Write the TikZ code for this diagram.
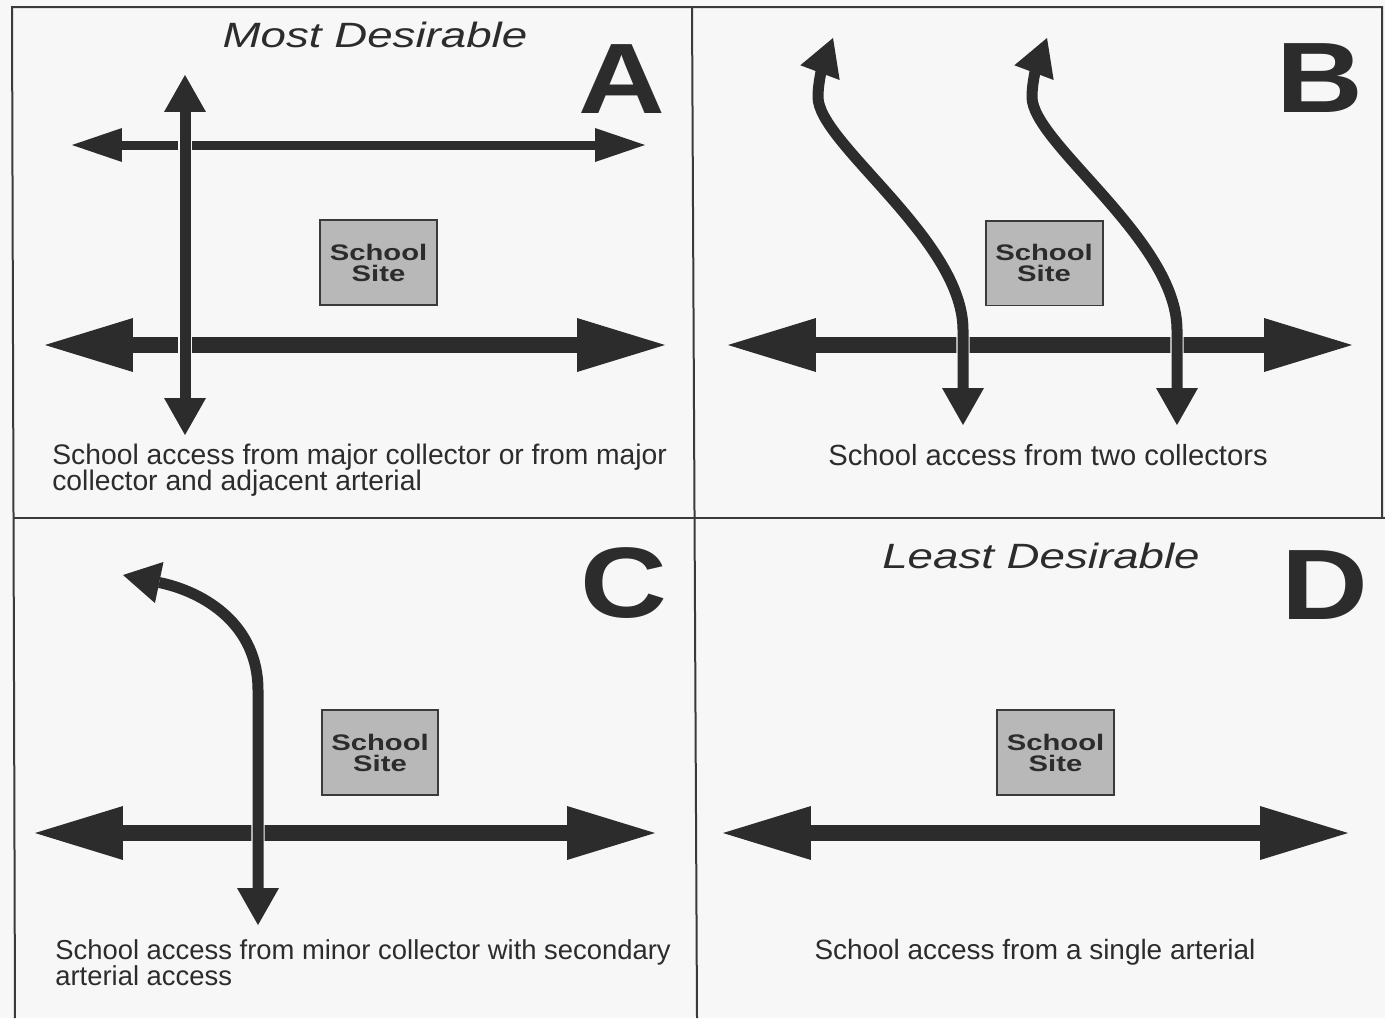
\documentclass[tikz,border=0pt]{standalone}
\usepackage{fontspec}
\setmainfont{Liberation Sans}
\newfontfamily\widesans[FakeStretch=1.3]{Liberation Sans}
\newfontfamily\lettersans[FakeStretch=1.2]{Liberation Sans}
\usetikzlibrary{arrows.meta}

\definecolor{ink}{HTML}{2C2C2C}
\definecolor{paper}{HTML}{F7F7F7}
\definecolor{rule}{HTML}{3A3A3A}
\definecolor{sitefill}{HTML}{B8B8B8}

% keep a fixed baseline distance even when lines nearly touch
\newcommand\tightlines{\lineskiplimit=-20pt\relax\lineskip=0pt\relax}

\tikzset{
  frame/.style={draw=rule, line width=0.04cm},
  arterial/.style={draw=ink, line width=0.32cm,
    {Triangle[length=1.76cm,width=1.08cm,line width=0pt]}-{Triangle[length=1.76cm,width=1.08cm,line width=0pt]}},
  collector/.style={draw=ink, line width=0.22cm,
    preaction={draw=paper, line width=0.265cm, arrows=-},
    {Triangle[length=0.74cm,width=0.84cm,line width=0pt]}-{Triangle[length=0.74cm,width=0.84cm,line width=0pt]}},
  lightcollector/.style={draw=ink, line width=0.18cm,
    {Triangle[length=1.0cm,width=0.68cm,line width=0pt]}-{Triangle[length=1.0cm,width=0.68cm,line width=0pt]}},
  site/.style={draw=rule, line width=0.04cm, fill=sitefill, minimum width=2.34cm,
    minimum height=1.7cm, inner sep=0pt, align=center, text=ink,
    font=\widesans\bfseries\fontsize{12.8}{12}\selectfont\tightlines},
  panelletter/.style={inner sep=0pt, text=ink, font=\lettersans\bfseries\fontsize{57}{57}\selectfont},
  ranking/.style={inner sep=0pt, text=ink, font=\widesans\itshape\fontsize{20}{20}\selectfont},
  caption/.style={inner sep=0pt, text=ink, align=left,
    font=\fontsize{#1}{14.8}\selectfont\tightlines},
  caption/.default=16.2,
}

\begin{document}
\begin{tikzpicture}[x=0.02cm, y=-0.02cm]
\useasboundingbox[fill=paper] (0,0) rectangle (1385,1018);

% panel frame
\draw[frame] (15,1018) -- (12,7) -- (1382,7) -- (1382,518);
\draw[frame] (692,7) -- (697,1018);
\draw[frame] (13,518) -- (1385,518);

% ---------------- panel A ----------------
\node[ranking] (rankA) at (375,35) {Most Desirable};
\node[panelletter] (letA) at (622,79) {A};
\node[site] (siteA) at (378.5,262.5) {School\\Site};

\coordinate (artAw) at (45,345);
\coordinate (artAe) at (665,345);
\coordinate (colAw) at (72,145);
\coordinate (colAe) at (645,145);
\coordinate (colAn) at (185,75);
\coordinate (colAs) at (185,435);
\draw[arterial] (artAw) -- (artAe);
\draw[lightcollector] (colAw) -- (colAe);
\draw[collector] (colAn) -- (colAs);

\node[caption=16.1, anchor=north west] (capA) at (52,444)
  {School access from major collector or from major\\collector and adjacent arterial};

% ---------------- panel B ----------------
\node[panelletter] (letB) at (1320,78) {B};
\node[site] (siteB) at (1044,263) {School\\Site};

\coordinate (artBw) at (728,345);
\coordinate (artBe) at (1352,345);
\draw[arterial] (artBw) -- (artBe);

\coordinate (colB1s) at (963,425);
\coordinate (colB1n) at (833,38);
\coordinate (colB2s) at (1177,425);
\coordinate (colB2n) at (1047,38);
\draw[collector] (colB1s) -- (963,330)
  .. controls (963,240) and (818,143) .. (818,97)
  .. controls (818,80) and (824,62) .. (colB1n);
\draw[collector] (colB2s) -- (1177,330)
  .. controls (1177,240) and (1032,143) .. (1032,97)
  .. controls (1032,80) and (1038,62) .. (colB2n);

\node[caption=16.6, anchor=base] (capB) at (1048,465) {School access from two collectors};

% ---------------- panel C ----------------
\node[panelletter] (letC) at (624,583) {C};
\node[site] (siteC) at (380,752.5) {School\\Site};

\coordinate (artCw) at (35,833);
\coordinate (artCe) at (655,833);
\draw[arterial] (artCw) -- (artCe);

\coordinate (colCs) at (258,925);
\coordinate (colCn) at (123,575);
\draw[collector] (colCs) -- (258,690)
  .. controls (258,625) and (205,592) .. (colCn);

\node[caption=15.6, anchor=north west] (capC) at (55,939)
  {School access from minor collector with secondary\\arterial access};

% ---------------- panel D ----------------
\node[ranking] (rankD) at (1041,556) {Least Desirable};
\node[panelletter] (letD) at (1325,585) {D};
\node[site] (siteD) at (1055.5,752.5) {School\\Site};

\coordinate (artDw) at (723,833);
\coordinate (artDe) at (1348,833);
\draw[arterial] (artDw) -- (artDe);

\node[caption=15.9, anchor=base] (capD) at (1035,959) {School access from a single arterial};
\end{tikzpicture}
\end{document}
